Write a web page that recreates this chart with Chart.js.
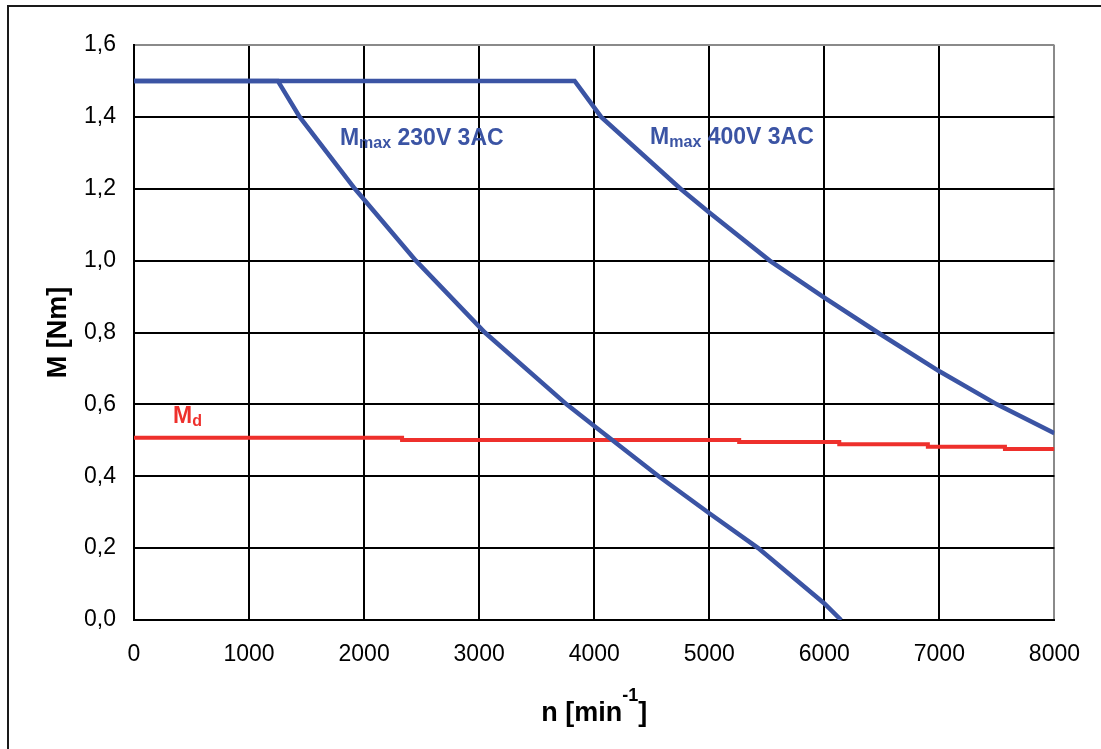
<!DOCTYPE html>
<html>
<head>
<meta charset="utf-8">
<script src="https://cdn.jsdelivr.net/npm/chart.js@4"></script>
<style>
  body { margin: 0; background: #fff; }
  #wrap { position: relative; width: 1101px; height: 749px; overflow: hidden; }
  #frame { position: absolute; left: 7px; top: 5px; width: 1200px; height: 1000px;
           border-top: 2px solid #1a1a1a; border-left: 2px solid #1a1a1a; pointer-events: none; }
  canvas { position: absolute; left: 0; top: 0; }
</style>
</head>
<body>
<div id="wrap">
  <div id="frame"></div>
  <canvas id="chart" width="1101" height="749"></canvas>
</div>
<script>
// speed n [min^-1] and torque M [Nm]
const speed230 = [0, 1250, 1440, 1920, 2450, 3050, 3760, 4000, 4560, 5000, 5425, 6000, 6146];
const torque230 = [1.5, 1.5, 1.4, 1.2, 1.0, 0.8, 0.6, 0.54, 0.4, 0.297, 0.2, 0.046, 0.0];

const speed400 = [0, 3830, 4060, 4750, 5000, 5525, 6000, 6465, 7000, 7500, 8000];
const torque400 = [1.5, 1.5, 1.4, 1.2, 1.134, 1.0, 0.897, 0.8, 0.692, 0.6, 0.52];

// standstill torque Md, stepped
const speedMd = [0, 2330, 5260, 6130, 6900, 7570, 8000];
const torqueMd = [0.507, 0.501, 0.495, 0.489, 0.482, 0.476, 0.476];

const xTicks = [0, 1000, 2000, 3000, 4000, 5000, 6000, 7000, 8000];
const yTicks = [0, 0.2, 0.4, 0.6, 0.8, 1.0, 1.2, 1.4, 1.6];

// curve labels: main letter, subscript, rest, anchor (n, M)
const labelSub = ['max', 'max', 'd'];
const labelRest = [' 230V 3AC', ' 400V 3AC', ''];
const labelSpeed = [1790, 4486, 340];
const labelTorque = [1.323, 1.325, 0.548];

const BLUE = '#3b54a4';
const RED = '#ee302c';
const FONT = '"Liberation Sans", Arial, sans-serif';

function pts(xs, ys) {
    return xs.map((v, i) => ({x: v, y: ys[i]}));
}

const textPlugin = {
    id: 'textPlugin',
    afterDraw(chart) {
        const {ctx, scales: {x, y}} = chart;
        ctx.save();
        ctx.textBaseline = 'alphabetic';
        ctx.textAlign = 'left';
        for (let i = 0; i < labelSub.length; i++) {
            let px = x.getPixelForValue(labelSpeed[i]);
            const py = y.getPixelForValue(labelTorque[i]);
            ctx.fillStyle = i < 2 ? BLUE : RED;
            ctx.font = 'bold 23px ' + FONT;
            ctx.fillText('M', px, py);
            px += ctx.measureText('M').width;
            ctx.font = 'bold 16px ' + FONT;
            ctx.fillText(labelSub[i], px, py + 3);
            px += ctx.measureText(labelSub[i]).width;
            if (labelRest[i]) {
                ctx.font = 'bold 23px ' + FONT;
                ctx.fillText(labelRest[i], px, py);
            }
        }

        // x axis title with superscript
        const big = 'bold 27px ' + FONT, small = 'bold 18px ' + FONT;
        ctx.fillStyle = '#000';
        ctx.font = big;
        const w1 = ctx.measureText('n [min').width, w3 = ctx.measureText(']').width;
        ctx.font = small;
        const w2 = ctx.measureText('-1').width;
        let tx = (x.left + x.right) / 2 - (w1 + w2 + w3) / 2;
        const ty = 721;
        ctx.font = big;
        ctx.fillText('n [min', tx, ty);
        tx += w1;
        ctx.font = small;
        ctx.fillText('-1', tx, ty - 20);
        tx += w2;
        ctx.font = big;
        ctx.fillText(']', tx, ty);
        ctx.restore();
    }
};

const canvas = document.getElementById('chart');
new Chart(canvas, {
    type: 'line',
    data: {
        datasets: [
            {
                data: pts(speed230, torque230),
                borderColor: BLUE,
                borderWidth: 4.5,
                pointRadius: 0,
                tension: 0,
            },
            {
                data: pts(speed400, torque400),
                borderColor: BLUE,
                borderWidth: 4.5,
                pointRadius: 0,
                tension: 0,
            },
            {
                data: pts(speedMd, torqueMd),
                borderColor: RED,
                borderWidth: 4,
                pointRadius: 0,
                stepped: true,
            },
        ]
    },
    options: {
        responsive: false,
        animation: false,
        layout: {
            padding: {left: 0, top: 45, right: 43, bottom: 0}
        },
        plugins: {
            legend: {display: false},
            tooltip: {enabled: false},
        },
        scales: {
            x: {
                type: 'linear',
                min: 0,
                max: 8000,
                afterBuildTicks: s => { s.ticks = xTicks.map(v => ({value: v})); },
                afterFit: s => { s.height = 129; },
                grid: {
                    color: c => c.tick && c.tick.value === 8000 ? '#8a8a8a' : '#000',
                    lineWidth: 2,
                    drawTicks: false,
                },
                border: {color: '#000', width: 2},
                ticks: {
                    padding: 21,
                    color: '#000',
                    font: {family: FONT, size: 23},
                    maxRotation: 0,
                    callback: v => String(v),
                },
            },
            y: {
                min: 0,
                max: 1.6,
                afterBuildTicks: s => { s.ticks = yTicks.map(v => ({value: v})); },
                afterFit: s => { s.width = 134; },
                grid: {
                    color: c => c.tick && Math.abs(c.tick.value - 1.6) < 1e-6 ? '#8a8a8a' : '#000',
                    lineWidth: 2,
                    drawTicks: false,
                },
                border: {color: '#000', width: 2},
                ticks: {
                    padding: 18,
                    color: '#000',
                    font: {family: FONT, size: 23},
                    callback: v => v.toFixed(1).replace('.', ','),
                },
                title: {
                    display: true,
                    text: 'M [Nm]',
                    color: '#000',
                    font: {family: FONT, size: 27, weight: 'bold'},
                    padding: {top: 42, bottom: 0},
                },
            },
        },
    },
    plugins: [textPlugin],
});
</script>
</body>
</html>
